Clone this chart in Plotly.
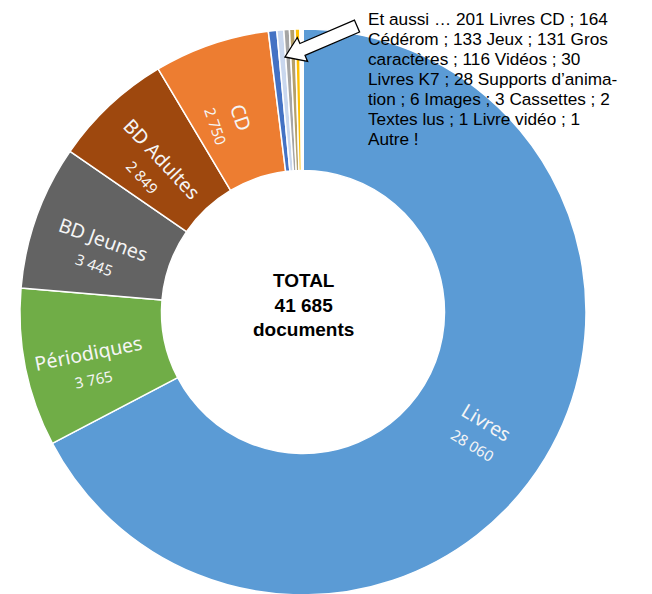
import math
import plotly.graph_objects as go

W, H = 652, 594
OFF = 8  # page body margin of the browser

categories = ["Livres", "Périodiques", "BD Jeunes", "BD Adultes", "CD",
              "Livres CD", "Cédérom", "Jeux", "Gros caractères", "Vidéos",
              "Livres K7", "Supports d'animation", "Images", "Cassettes",
              "Textes lus", "Livre vidéo", "Autre"]
values = [28060, 3765, 3445, 2849, 2750,
          201, 164, 133, 131, 116, 30, 28, 6, 3, 2, 1, 1]
colors = ["#5B9BD5", "#70AD47", "#636363", "#9E480E", "#ED7D31",
          "#4472C4", "#C9D7EE", "#A5A5A5", "#B5A06A", "#FFC000",
          "#F3E3A0", "#264478", "#7CAFDD", "#997300", "#43682B",
          "#B7B7B7", "#FFCD33"]
labelled = [True, True, True, True, True] + [False] * 12

center_text = "<b>TOTAL<br>41 685<br>documents</b>"
note_lines = ["Et aussi … 201 Livres CD ; 164",
              "Cédérom ; 133 Jeux ; 131 Gros",
              "caractères ; 116 Vidéos ; 30",
              "Livres K7 ; 28 Supports d’anima-",
              "tion ; 6 Images ; 3 Cassettes ; 2",
              "Textes lus ; 1 Livre vidéo ; 1",
              "Autre !"]

# pie geometry in page pixels
cx, cy, R = 303, 312, 283
HOLE = 0.5
LBL_DX, LBL_DY = -4, 10


def px(x, y):
    return (x - OFF) / W, 1 - (y - OFF) / H


x0, y0 = px(cx - R, cy + R)
x1, y1 = px(cx + R, cy - R)

fig = go.Figure(go.Pie(
    labels=categories,
    values=values,
    sort=False,
    direction="clockwise",
    rotation=0,
    hole=HOLE,
    marker=dict(colors=colors, line=dict(color="white", width=1.5)),
    textinfo="none",
    domain=dict(x=[x0, x1], y=[y0, y1]),
    showlegend=False,
    hoverinfo="label+value",
))

# radial slice labels, placed from the cumulative values
total = sum(values)
rmid = R * (1 + HOLE) / 2
cum = 0
for lab, v, show in zip(categories, values, labelled):
    mid = (cum + v / 2) / total * 360.0
    cum += v
    if not show:
        continue
    th = math.radians(mid)
    lx = cx + rmid * math.sin(th) + LBL_DX
    ly = cy - rmid * math.cos(th) + LBL_DY
    ang = mid - 90
    if ang > 90:
        ang -= 180
    vs = "{:,}".format(v).replace(",", " ")
    ax, ay = px(lx, ly)
    fig.add_annotation(
        text=lab + "<br><span style='font-size:15px'>" + vs + "</span>",
        x=ax, y=ay, xref="paper", yref="paper", showarrow=False,
        xanchor="center", yanchor="middle",
        textangle=ang, align="center",
        font=dict(family="Noto Sans", size=19.5, color="#F5F5F5"))

# block arrow outline
tip = (285, 57)
tail = (357, 26)
ux, uy = tail[0] - tip[0], tail[1] - tip[1]
L = math.hypot(ux, uy)
ux, uy = ux / L, uy / L
nx, ny = -uy, ux
head_len, head_hw, shaft_hw = 19, 13, 6.5
bx, by = tip[0] + head_len * ux, tip[1] + head_len * uy
pts = [
    tip,
    (bx + head_hw * nx, by + head_hw * ny),
    (bx + shaft_hw * nx, by + shaft_hw * ny),
    (tail[0] + shaft_hw * nx, tail[1] + shaft_hw * ny),
    (tail[0] - shaft_hw * nx, tail[1] - shaft_hw * ny),
    (bx - shaft_hw * nx, by - shaft_hw * ny),
    (bx - head_hw * nx, by - head_hw * ny),
]
path = "M " + " L ".join("%.4f %.4f" % px(x, y) for x, y in pts) + " Z"
fig.add_shape(type="path", path=path, xref="paper", yref="paper",
              fillcolor="white", line=dict(color="black", width=1.3))

tx, ty = px(cx, 305)
fig.add_annotation(text=center_text, x=tx, y=ty,
                   xref="paper", yref="paper", showarrow=False,
                   xanchor="center", yanchor="middle",
                   font=dict(family="Liberation Sans, Arial", size=19, color="black"),
                   align="center")

for i, line in enumerate(note_lines):
    lx_, ly_ = px(366, 19 + 20 * i)
    fig.add_annotation(text=line, x=lx_, y=ly_,
                       xref="paper", yref="paper", xanchor="left", yanchor="middle",
                       showarrow=False, align="left",
                       font=dict(family="Liberation Sans, Arial", size=17.2, color="black"))

fig.update_layout(
    width=W, height=H,
    margin=dict(l=0, r=0, t=0, b=0),
    paper_bgcolor="white",
    plot_bgcolor="white",
)

fig.write_html("out.html")
